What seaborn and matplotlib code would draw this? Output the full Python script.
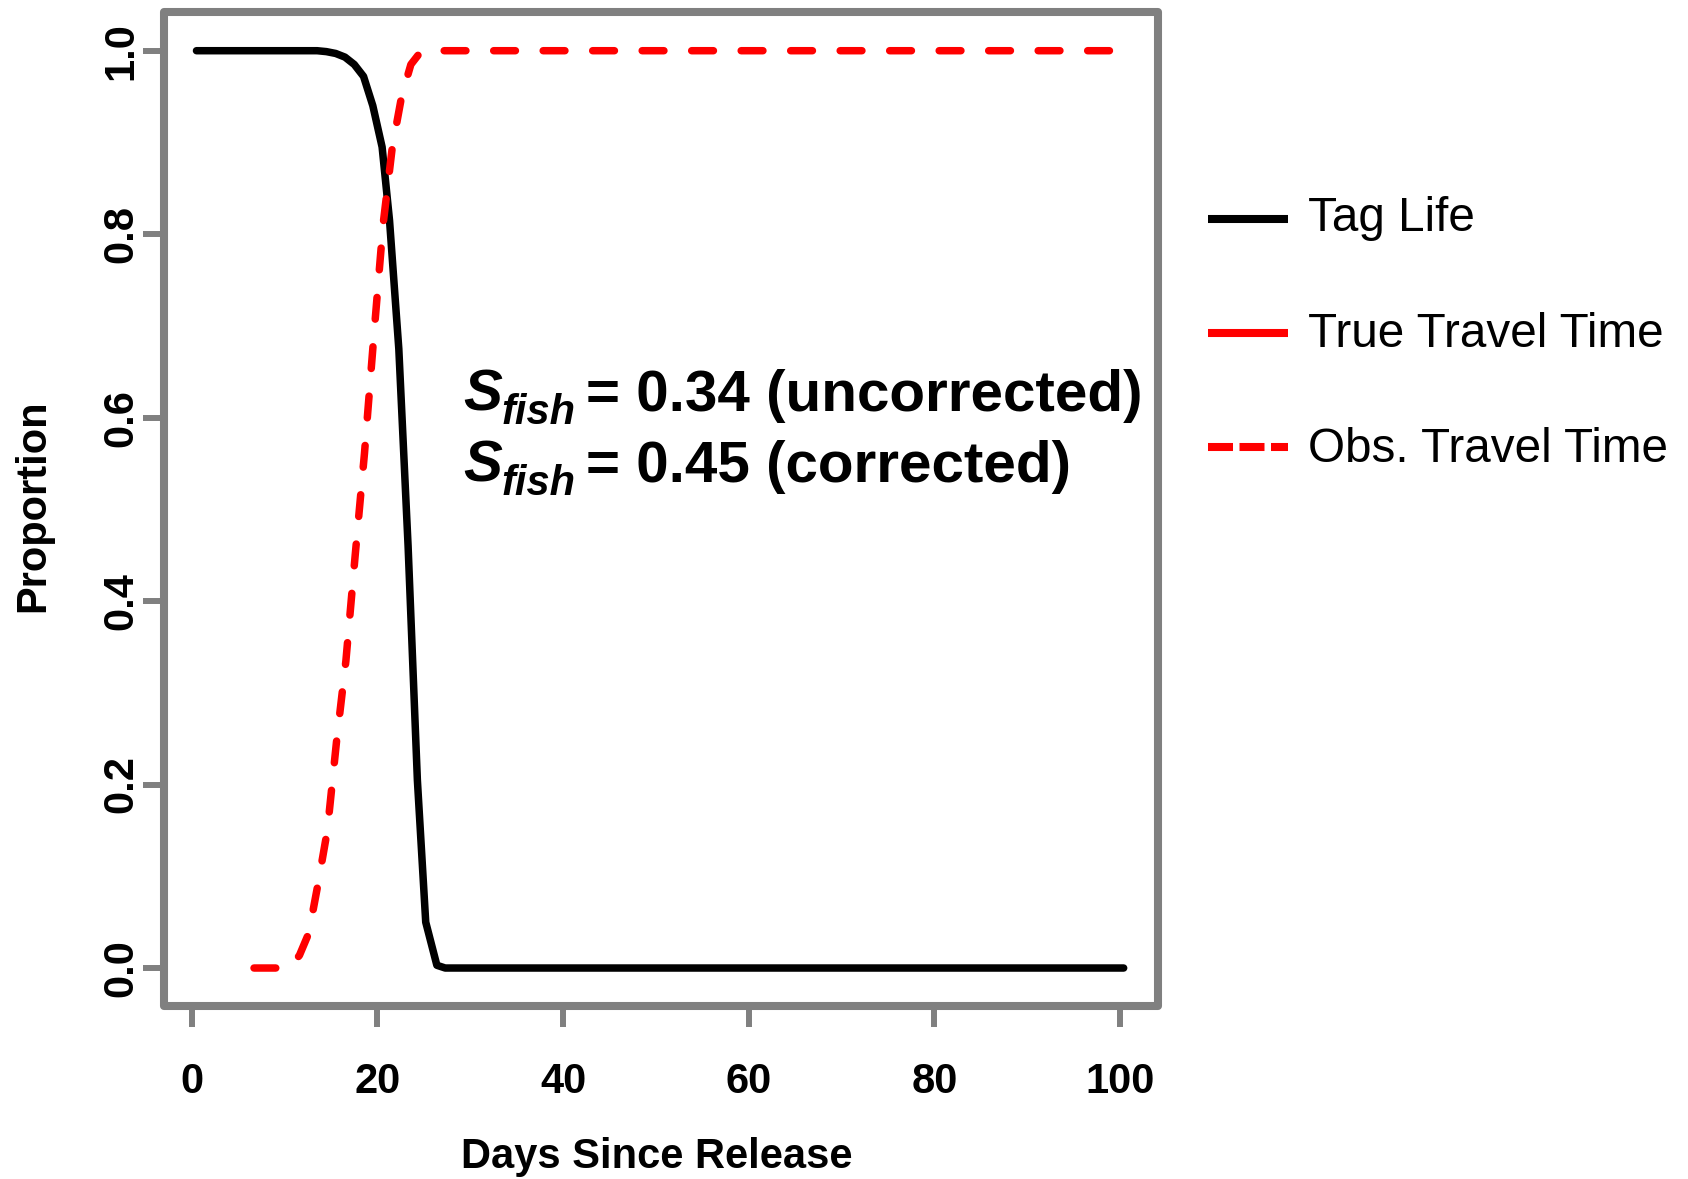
import matplotlib
matplotlib.use("Agg")
import matplotlib.pyplot as plt
from matplotlib.lines import Line2D
from matplotlib.patches import Rectangle
import seaborn as sns

# ---- data -------------------------------------------------------------
tag_days = [0.5, 13.5, 14.5, 15.5, 16.5, 17.5, 18.5, 19.5, 20.5, 21.3,
            22.3, 23.3, 24.3, 25.2, 26.4, 27.3, 100.4]
tag_prop = [1.0, 1.0, 0.999, 0.997, 0.993, 0.985, 0.972, 0.94, 0.895, 0.815,
            0.675, 0.46, 0.205, 0.05, 0.003, 0.0, 0.0]

obs_days = [6.7, 9.7, 10.7, 11.6, 12.6, 13.6, 14.6, 15.6, 16.6, 17.6,
            18.6, 19.6, 20.6, 21.6, 22.6, 23.6, 24.6, 25.6, 100.0]
obs_prop = [0.0, 0.0, 0.002, 0.014, 0.038, 0.092, 0.15, 0.248, 0.335, 0.45,
            0.561, 0.688, 0.81, 0.895, 0.95, 0.985, 0.998, 1.0, 1.0]

x_ticks = [0, 20, 40, 60, 80, 100]
y_ticks = [0.0, 0.2, 0.4, 0.6, 0.8, 1.0]
y_tick_labels = ["0.0", "0.2", "0.4", "0.6", "0.8", "1.0"]

legend_labels = ["Tag Life", "True Travel Time", "Obs. Travel Time"]
s_uncorrected = 0.34
s_corrected = 0.45

# ---- style --------------------------------------------------------------
sns.set_theme(style="white")
plt.rcParams["font.family"] = ["Liberation Sans", "DejaVu Sans"]
plt.rcParams["text.color"] = "black"
plt.rcParams["axes.labelcolor"] = "black"

W, H = 1688, 1179
fig = plt.figure(figsize=(W / 100, H / 100), dpi=100)
fig.patch.set_facecolor("white")


def fx(px):
    return px / W


def fy(py):
    return 1 - py / H


ax = fig.add_axes([fx(164), fy(1006), (1158 - 164) / W, (1006 - 12) / H])
ax.set_facecolor("white")

LW = 5.4
GRAY = "#808080"

sns.lineplot(x=tag_days, y=tag_prop, ax=ax, color="black", lw=LW,
             estimator=None, sort=False)
sns.lineplot(x=obs_days, y=obs_prop, ax=ax, color="red", lw=LW,
             estimator=None, sort=False, linestyle=(0, (2.9, 3.7)))
for ln in ax.lines:
    ln.set_solid_capstyle("round")
    ln.set_dash_capstyle("round")
    ln.set_solid_joinstyle("round")
    ln.set_dash_joinstyle("round")

ax.set_xlim(-3.0, 104.1)
ax.set_ylim(-0.0414, 1.0422)

for sp in ax.spines.values():
    sp.set_visible(False)
ax.add_patch(Rectangle((0, 0), 1, 1, transform=ax.transAxes, fill=False,
                       ec=GRAY, lw=5.8, joinstyle="round", clip_on=False,
                       zorder=5))

ax.set_xticks(x_ticks)
ax.set_xticklabels([str(v) for v in x_ticks])
ax.set_yticks(y_ticks)
ax.set_yticklabels(y_tick_labels)
ax.tick_params(axis="both", which="major", direction="out", length=15,
               width=4.3, color=GRAY, labelsize=30, labelcolor="black",
               bottom=True, left=True)
ax.tick_params(axis="x", pad=25.5)
ax.tick_params(axis="y", pad=1.5, labelrotation=90)
for lab in ax.get_xticklabels() + ax.get_yticklabels():
    lab.set_fontweight("bold")
for lab in ax.get_yticklabels():
    lab.set_verticalalignment("center")
ax.grid(False)

# axis titles
fig.text(fx(657), fy(1157), "Days Since Release", ha="center", va="center",
         fontsize=30, fontweight="bold", color="black")
fig.text(fx(33), fy(506), "Proportion", ha="center", va="center",
         rotation=90, fontsize=30, fontweight="bold", color="black")


# survival annotation: bold-italic S with "fish" subscript
def s_fish_line(baseline_px, rest):
    s = fig.text(fx(463), fy(baseline_px), "S", fontsize=42,
                 fontweight="bold", fontstyle="italic", va="baseline",
                 ha="left", color="black")
    sub = ax.annotate("fish", xy=(1, 0), xycoords=s, xytext=(0.0, -7.5),
                      textcoords="offset points", fontsize=30,
                      fontweight="bold", fontstyle="italic", ha="left",
                      va="bottom", color="black", annotation_clip=False)
    ax.annotate(rest, xy=(1, 0), xycoords=(sub, s), xytext=(7, 0),
                textcoords="offset points", fontsize=42, fontweight="bold",
                ha="left", va="bottom", color="black",
                annotation_clip=False)


s_fish_line(411, f"= {s_uncorrected:.2f} (uncorrected)")
s_fish_line(482, f"= {s_corrected:.2f} (corrected)")

# legend to the right of the panel
legend_styles = [
    dict(color="black", ls="-"),
    dict(color="red", ls="-"),
    dict(color="red", ls=(0, (25 * 0.72 / 5.8, 6.5 * 0.72 / 5.8))),
]
line_y = [219, 333, 447]
text_base = [231, 347, 462]
for lab, st, ly, tb in zip(legend_labels, legend_styles, line_y, text_base):
    fig.add_artist(Line2D([fx(1208), fx(1288)], [fy(ly), fy(ly)],
                          transform=fig.transFigure, lw=5.8,
                          solid_capstyle="butt", dash_capstyle="butt", **st))
    fig.text(fx(1308), fy(tb), lab, fontsize=34.3, ha="left", va="baseline",
             color="black")

fig.savefig("out.png", dpi=100, facecolor="white")
